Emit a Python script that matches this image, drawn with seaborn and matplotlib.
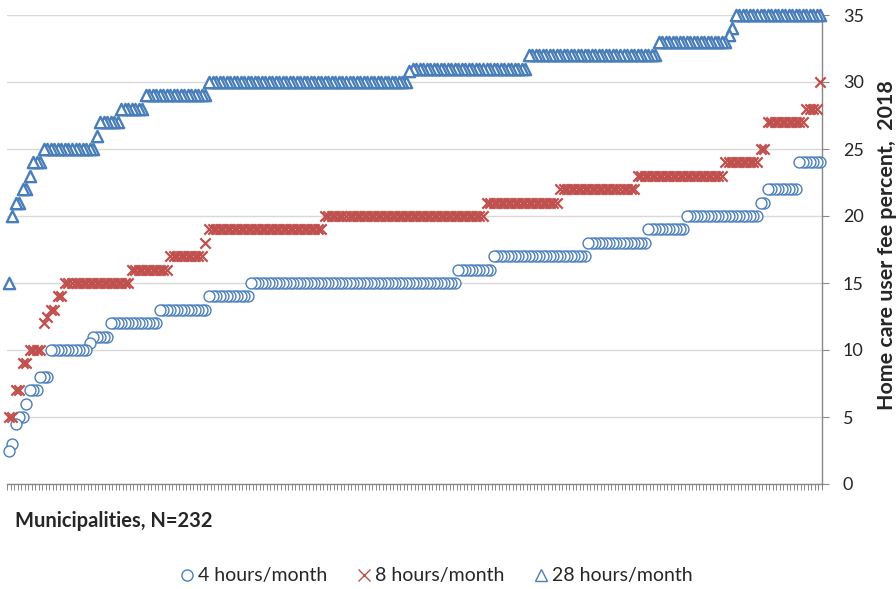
import matplotlib
matplotlib.use("Agg")
import matplotlib.pyplot as plt
from matplotlib.lines import Line2D
import numpy as np
import pandas as pd
import seaborn as sns

# Fee levels (sorted), with how many municipalities sit on each level
h4_levels = [2.5, 3, 4.5, 5, 6, 7, 8, 10, 10.5, 11, 12, 13, 14, 15, 16, 17, 18, 19, 20, 21, 22, 24]
h4_counts = [1, 1, 1, 2, 1, 3, 3, 11, 1, 5, 14, 14, 12, 59, 10, 27, 17, 11, 21, 2, 9, 7]

h8_levels = [5, 7, 9, 10, 12, 12.5, 13, 14, 15, 16, 17, 18, 19, 20, 21, 22, 23, 24, 25, 27, 28, 30]
h8_counts = [2, 2, 2, 4, 1, 1, 2, 2, 19, 11, 10, 1, 33, 46, 21, 22, 25, 10, 2, 11, 4, 1]

h28_levels = [15, 20, 21, 22, 23, 24, 25, 26, 27, 28, 29, 30, 30.8, 31, 32, 33, 33.5, 34, 35]
h28_counts = [1, 1, 2, 2, 1, 3, 15, 1, 6, 7, 18, 57, 1, 33, 37, 20, 1, 1, 25]

series_names = ['4 hours/month', '8 hours/month', '28 hours/month']
n_mun = 232

blue = '#4A7EBB'
red = '#C0504D'

def expand(levels, counts, name):
    vals = np.repeat(levels, counts)
    df = pd.DataFrame({'municipality': np.arange(len(vals)), 'fee': vals, 'series': name})
    # reversed so the left-most marker of a run ends up on top
    return df.iloc[::-1]

df4 = expand(h4_levels, h4_counts, series_names[0])
df8 = expand(h8_levels, h8_counts, series_names[1])
df28 = expand(h28_levels, h28_counts, series_names[2])

sns.set_style("white")
plt.rcParams['font.family'] = ['Lato', 'DejaVu Sans']

fig = plt.figure(figsize=(8.96, 5.89), dpi=100)
ax = fig.add_axes([7/896, 1 - 484/589, 815/896, 469/589])

sns.scatterplot(data=df4, x='municipality', y='fee', marker='o', s=62,
                facecolor='white', edgecolor=blue, linewidth=1.0, ax=ax, clip_on=False, zorder=3)
sns.scatterplot(data=df8, x='municipality', y='fee', marker='x', s=55,
                color=red, linewidth=1.6, ax=ax, clip_on=False, zorder=3)
sns.scatterplot(data=df28, x='municipality', y='fee', marker='^', s=66,
                facecolor='white', edgecolor=blue, linewidth=1.7, ax=ax, clip_on=False, zorder=3)

ax.set_xlim(-0.5, n_mun - 0.5)
ax.set_ylim(0, 35)
ax.set_yticks(range(0, 36, 5))
ax.yaxis.tick_right()
ax.grid(axis='y', color='#D9D9D9', linewidth=1.0)
ax.set_axisbelow(True)

ax.set_xticks(np.arange(-0.5, n_mun, 1))
ax.set_xticklabels([])
ax.tick_params(axis='x', direction='out', length=4, width=0.7, color='#888888', bottom=True)
ax.tick_params(axis='y', direction='out', length=5, width=0.8, color='#888888', right=True,
               labelsize=13, labelcolor='#262626', pad=10)

for side in ['left', 'top']:
    ax.spines[side].set_visible(False)
for side in ['right', 'bottom']:
    ax.spines[side].set_color('#888888')
    ax.spines[side].set_linewidth(1.0)

ax.set_xlabel('')
ax.set_ylabel('')

fig.text(15/896, 1 - 521/589, 'Municipalities, N=232', fontsize=14.5, fontweight='bold',
         ha='left', va='center')
fig.text(887/896, 1 - 245/589, 'Home care user fee percent,  2018', fontsize=15.4,
         fontweight='bold', rotation=90, ha='center', va='center')

handles = [
    Line2D([], [], marker='o', linestyle='', markerfacecolor='white', markeredgecolor=blue,
           markersize=8, markeredgewidth=1.0),
    Line2D([], [], marker='x', linestyle='', color=red, markersize=9, markeredgewidth=1.0),
    Line2D([], [], marker='^', linestyle='', markerfacecolor='white', markeredgecolor=blue,
           markersize=8, markeredgewidth=1.0),
]
fig.legend(handles, series_names, loc='center', bbox_to_anchor=(436/896, 1 - 576/589),
           ncol=3, frameon=False, fontsize=14, handletextpad=0.15, columnspacing=1.5,
           handlelength=0.8)

fig.savefig('out.png', dpi=100)
